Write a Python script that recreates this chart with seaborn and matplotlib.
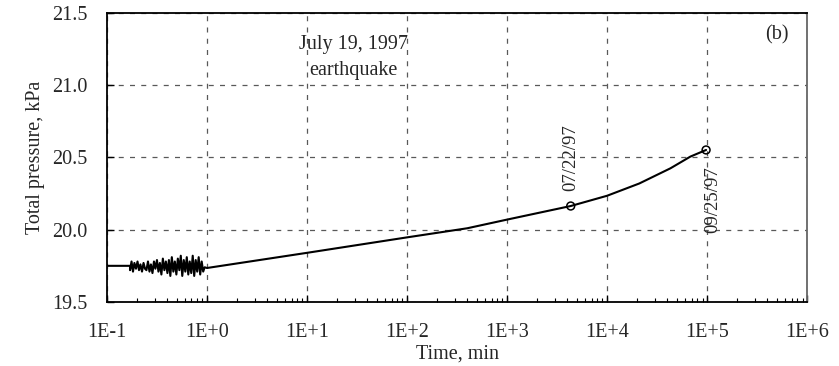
import numpy as np
import pandas as pd
import matplotlib
matplotlib.use("Agg")
import matplotlib.pyplot as plt
import seaborn as sns
from matplotlib.ticker import FixedLocator, FuncFormatter, LogLocator, NullFormatter

# Initial steady reading before the shaking (min, kPa)
flat_time = [0.10, 0.17]
flat_pressure = [19.75, 19.75]

# Record during the earthquake shaking (min, kPa)
shake_time = [0.170, 0.176, 0.182, 0.188, 0.195, 0.202, 0.209, 0.216, 0.224, 0.232,
              0.240, 0.248, 0.257, 0.266, 0.275, 0.285, 0.295, 0.305, 0.316, 0.327,
              0.338, 0.350, 0.362, 0.375, 0.388, 0.402, 0.416, 0.430, 0.445, 0.461,
              0.477, 0.494, 0.511, 0.529, 0.547, 0.566, 0.586, 0.607, 0.628, 0.650,
              0.672, 0.696, 0.720, 0.745, 0.771, 0.798, 0.826, 0.855, 0.885, 0.916,
              0.948]
shake_pressure = [19.72, 19.78, 19.71, 19.77, 19.73, 19.78, 19.72, 19.76, 19.71, 19.77,
                  19.73, 19.72, 19.78, 19.71, 19.76, 19.70, 19.78, 19.73, 19.79, 19.71,
                  19.77, 19.69, 19.80, 19.72, 19.78, 19.70, 19.79, 19.68, 19.81, 19.71,
                  19.78, 19.69, 19.80, 19.72, 19.82, 19.68, 19.79, 19.71, 19.81, 19.69,
                  19.78, 19.70, 19.82, 19.68, 19.79, 19.71, 19.81, 19.69, 19.78, 19.71,
                  19.74]

# Post-earthquake build-up of total pressure (min, kPa)
post_time = [1.0, 10.0, 100.0, 400.0, 1000.0, 4330.0, 10000.0, 21000.0, 43000.0, 68000.0, 97700.0]
post_pressure = [19.735, 19.84, 19.947, 20.01, 20.07, 20.164, 20.235, 20.32, 20.425, 20.506, 20.552]

# Dated readings
date_labels = ["07/22/97", "09/25/97"]
date_time = [4330.0, 97700.0]
date_pressure = [20.164, 20.552]

x_ticks = [1e-1, 1e0, 1e1, 1e2, 1e3, 1e4, 1e5, 1e6]
x_tick_labels = ["1E-1", "1E+0", "1E+1", "1E+2", "1E+3", "1E+4", "1E+5", "1E+6"]
y_ticks = [19.5, 20.0, 20.5, 21.0, 21.5]

sns.set_theme(style="white")
plt.rcParams["font.family"] = ["Liberation Serif", "DejaVu Serif"]
plt.rcParams["mathtext.default"] = "regular"

record = pd.DataFrame({
    "time": flat_time + shake_time + post_time,
    "pressure": flat_pressure + shake_pressure + post_pressure,
})
dates = pd.DataFrame({"time": date_time, "pressure": date_pressure, "label": date_labels})

fig, ax = plt.subplots(figsize=(8.39, 3.66), dpi=100)
fig.subplots_adjust(left=0.1275, right=0.962, top=0.9645, bottom=0.175)

ax.set_xscale("log")
sns.lineplot(data=record, x="time", y="pressure", ax=ax, color="black",
             linewidth=1.5, sort=False, estimator=None, zorder=3)
sns.scatterplot(data=dates, x="time", y="pressure", ax=ax, marker="o", s=32,
                facecolor="none", edgecolor="black", linewidth=1.1, zorder=4)

ax.set_xlim(1e-1, 1e6)
ax.set_ylim(19.5, 21.5)
ax.xaxis.set_major_locator(FixedLocator(x_ticks))
ax.xaxis.set_major_formatter(FuncFormatter(lambda v, p: x_tick_labels[x_ticks.index(v)] if v in x_ticks else ""))
ax.xaxis.set_minor_locator(LogLocator(base=10, subs=np.arange(2, 10), numticks=20))
ax.xaxis.set_minor_formatter(NullFormatter())
ax.yaxis.set_major_locator(FixedLocator(y_ticks))
ax.yaxis.set_major_formatter(FuncFormatter(lambda v, p: f"{v:.1f}"))

ax.tick_params(axis="both", which="major", direction="in", length=5, width=1,
               labelsize=14.5, color="black", bottom=True, left=True)
ax.tick_params(axis="x", which="major", pad=15)
ax.tick_params(axis="y", which="major", pad=14)
ax.tick_params(axis="x", which="minor", direction="in", length=3, width=0.8,
               color="black", bottom=True)

ax.grid(True, which="major", color="0.35", linestyle=(0, (4, 5)), linewidth=0.9)
for side in ["left", "bottom", "top", "right"]:
    ax.spines[side].set_color("black")
    ax.spines[side].set_linewidth(1.3)
ax.spines["right"].set_color("0.4")

ax.set_xlabel("Time, min", fontsize=14.5, labelpad=2)
ax.set_ylabel("Total pressure, kPa", fontsize=14.5, labelpad=5)

ax.text(0.352, 0.892, "July 19, 1997", transform=ax.transAxes, ha="center",
        va="center", fontsize=14.5)
ax.text(0.352, 0.802, "earthquake", transform=ax.transAxes, ha="center",
        va="center", fontsize=14.5)
ax.text(0.957, 0.925, "(b)", transform=ax.transAxes, ha="center",
        va="center", fontsize=14.5)

ax.annotate(date_labels[0], (date_time[0], date_pressure[0]), xytext=(0, 11),
            textcoords="offset points", rotation=90, ha="center", va="bottom",
            fontsize=13.5)
ax.annotate(date_labels[1], (date_time[1], date_pressure[1]), xytext=(5, -12),
            textcoords="offset points", rotation=90, ha="center", va="top",
            fontsize=13.5)

fig.savefig("out.png", dpi=100)
